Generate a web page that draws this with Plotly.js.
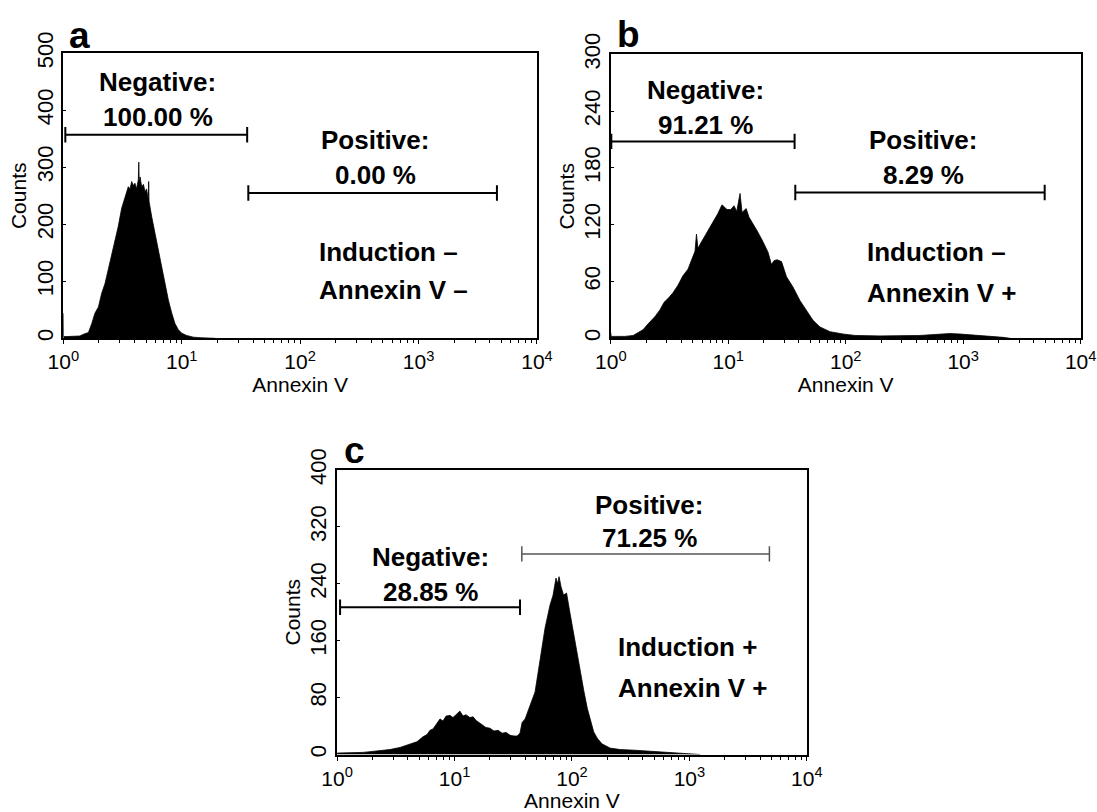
<!DOCTYPE html>
<html>
<head>
<meta charset="utf-8">
<script src="https://cdn.plot.ly/plotly-3.0.1.min.js"></script>
<style>html,body{margin:0;padding:0;background:#fff;}#chart{width:1097px;height:812px;}</style>
</head>
<body>
<div id="chart"></div>
<script>
// ---------- data ----------
// Panel a: Induction – / Annexin V –  (Annexin V intensity, counts)
const aX = [1.00, 1.005, 1.07, 1.20, 1.38, 1.48, 1.63, 1.74, 1.85, 1.98,
            2.11, 2.25, 2.40, 2.56, 2.73, 2.91, 3.11, 3.32, 3.54, 3.66,
            3.78, 3.90, 4.03, 4.15, 4.30, 4.34, 4.38, 4.45, 4.59, 4.75,
            4.90, 5.05, 5.22, 5.26, 5.30, 5.58, 5.95, 6.34, 6.78, 7.23,
            7.71, 8.24, 8.77, 9.36, 10.0, 11.0, 12.5, 14.3, 19.0];
const aY = [44, 3, 3, 4, 4, 7, 10, 26, 44, 55,
            79, 96, 120, 143, 167, 196, 228, 248, 266, 262,
            275, 268, 272, 262, 278, 309, 272, 283, 266, 270,
            257, 262, 243, 275, 240, 213, 184, 161, 126, 96,
            67, 44, 26, 15, 9, 5, 2, 1, 0];

// Panel b: Induction – / Annexin V +
const bX = [1.00, 1.005, 1.09, 1.32, 1.55, 1.70, 1.88, 2.07, 2.38, 2.62,
            2.84, 3.07, 3.38, 3.73, 4.11, 4.54, 4.91, 5.21, 5.36, 5.52,
            5.86, 6.34, 6.78, 7.41, 8.18, 8.84, 9.37, 9.75, 10.5, 11.2,
            11.8, 12.6, 13.1, 14.2, 15.0, 15.9, 17.5, 19.2, 20.5, 21.8,
            23.3, 24.5, 26.0, 28.4, 31.3, 35.6, 40.7, 46.3, 52.6, 60.3,
            73.4, 94.7, 120, 196, 289, 428, 574, 771, 938, 1259,
            1687, 2178, 2500];
const bY = [6, 2, 2, 2, 3, 6, 9, 15, 23, 30,
            38, 42, 48, 56, 66, 73, 84, 92, 110, 95,
            101, 108, 114, 123, 132, 141, 138, 136, 136, 140,
            134, 153, 133, 137, 128, 123, 114, 105, 98, 91,
            78, 82, 83, 81, 65, 54, 40, 30, 19, 12,
            7, 4.5, 3, 2.5, 2.5, 3, 4, 5, 4.5, 3.5,
            2.5, 1, 0];

// Panel c: Induction + / Annexin V +
const cX = [1.00, 1.17, 1.42, 1.66, 1.91, 2.32, 2.82, 3.44, 4.18, 4.79,
            5.39, 5.83, 6.18, 6.56, 6.95, 7.52, 7.98, 8.46, 9.15, 9.70,
            10.3, 11.1, 11.8, 12.5, 13.5, 14.4, 15.2, 16.5, 17.5, 18.5,
            20.0, 21.7, 23.5, 25.4, 27.5, 29.7, 32.1, 34.1, 36.1, 37.6,
            39.9, 44.0, 48.5, 53.5, 59.0, 65.0, 69.0, 73.1, 75.4, 77.6,
            80.7, 84.8, 89.9, 96.4, 103, 110, 117, 126, 135, 143,
            153, 164, 180, 211, 257, 345, 462, 684, 975, 1233];
const cY = [2, 2, 2, 3, 4, 5, 7, 10, 15, 18,
            25, 28, 34, 36, 42, 50, 47, 54, 55, 52,
            56, 61, 54, 56, 52, 53, 48, 44, 42, 38,
            37, 33, 34, 30, 31, 27, 26, 26, 30, 45,
            50, 68, 88, 133, 178, 210, 224, 248, 240, 250,
            236, 224, 227, 198, 170, 142, 115, 90, 65, 50,
            32, 23, 15, 9, 7, 6, 4.5, 3, 1.5, 0];

// Gates: [start, end] on Annexin V, and the count level where each bar is drawn
const gateNegA = [1.04, 35.7], gateNegALevel = 357;
const gatePosA = [36.5, 4590], gatePosALevel = 255;
const gateNegB = [1.01, 36.7], gateNegBLevel = 208;
const gatePosB = [37.2, 4940], gatePosBLevel = 154;
const gateNegC = [1.06, 36.1], gateNegCLevel = 207;
const gatePosC = [37.4, 4800], gatePosCLevel = 282;

const negLabels = ['100.00 %', '91.21 %', '28.85 %'];
const posLabels = ['0.00 %', '8.29 %', '71.25 %'];
const condLabels = [['Induction –', 'Annexin V –'], ['Induction –', 'Annexin V +'], ['Induction +', 'Annexin V +']];
const panelLetters = ['a', 'b', 'c'];

const xTickVals = [1, 10, 100, 1000, 10000];
const xTickText = ['10<sup>0</sup>', '10<sup>1</sup>', '10<sup>2</sup>', '10<sup>3</sup>', '10<sup>4</sup>'];
const yMax = [500, 300, 400];
const yStep = [100, 60, 80];

// ---------- build ----------
const FONT = 'Arial, "Liberation Sans", Helvetica, sans-serif';
const NARROW = '"Liberation Sans Narrow", "Arial Narrow", Arial, "Liberation Sans", sans-serif';
const minorVals = [];
for (let d = 1; d < 10000; d *= 10) for (let m = 2; m <= 9; m++) minorVals.push(m * d);

function histTrace(x, y, ax) {
  return {x, y, type: 'scatter', mode: 'lines', fill: 'tozeroy', fillcolor: '#000',
          line: {color: '#000', width: 0.8}, xaxis: 'x' + ax, yaxis: 'y' + ax, hoverinfo: 'skip', showlegend: false};
}
function gateTrace(g, level, ax, color, w) {
  return {x: g, y: [level, level], type: 'scatter', mode: 'lines+markers',
          line: {color, width: w}, marker: {symbol: 'line-ns-open', size: 11, color, line: {color, width: w}},
          xaxis: 'x' + ax, yaxis: 'y' + ax, hoverinfo: 'skip', showlegend: false};
}
function xAxis(domain, anchor) {
  return {type: 'log', range: [0, 4], domain, anchor, tickmode: 'array', tickvals: xTickVals, ticktext: xTickText,
          ticks: 'outside', ticklen: 4, tickwidth: 1, tickcolor: '#000', ticklabeloverflow: 'allow',
          minor: {tickmode: 'array', tickvals: minorVals, ticks: 'outside', ticklen: 3, tickwidth: 1, tickcolor: '#000'},
          showline: true, linewidth: 2, linecolor: '#000', mirror: true, showgrid: false, zeroline: false,
          tickfont: {family: NARROW, size: 21, color: '#000'},
          title: {text: 'Annexin V', font: {family: FONT, size: 21, color: '#000'}, standoff: 0}, fixedrange: true};
}
function yAxis(domain, anchor, max, step) {
  return {range: [0, max], domain, anchor, dtick: step, tick0: 0, tickangle: -90,
          ticks: 'inside', ticklen: 3, tickwidth: 1, tickcolor: '#000', ticklabeloverflow: 'allow',
          showline: true, linewidth: 2, linecolor: '#000', mirror: true, showgrid: false, zeroline: false,
          tickfont: {family: NARROW, size: 22, color: '#000'},
          title: {text: 'Counts', font: {family: FONT, size: 21, color: '#000'}, standoff: 0}, fixedrange: true};
}

const data = [
  histTrace(aX, aY, ''), gateTrace(gateNegA, gateNegALevel, '', '#000', 2), gateTrace(gatePosA, gatePosALevel, '', '#000', 2),
  histTrace(bX, bY, '2'), gateTrace(gateNegB, gateNegBLevel, '2', '#000', 2), gateTrace(gatePosB, gatePosBLevel, '2', '#000', 2),
  histTrace(cX, cY, '3'), gateTrace(gateNegC, gateNegCLevel, '3', '#000', 2), gateTrace(gatePosC, gatePosCLevel, '3', '#555', 1.5)
];

// annotation positions (fractions of each plot area)
const pos = [
  {neg: [0.199, 0.900, 0.778], pos: [0.659, 0.696, 0.573], cond: [0.535, 0.304, 0.169], letter: [0.035, 0.985]},
  {neg: [0.201, 0.874, 0.751], pos: [0.665, 0.698, 0.575], cond: [0.542, 0.305, 0.158], letter: [0.037, 0.99]},
  {neg: [0.199, 0.695, 0.572], pos: [0.665, 0.877, 0.760], cond: [0.593, 0.379, 0.233], letter: [0.036, 0.99]}
];
const annotations = [];
const bold = {family: FONT, size: 26, color: '#000'};
pos.forEach((p, i) => {
  const xr = (i === 0 ? 'x' : 'x' + (i + 1)) + ' domain';
  const yr = (i === 0 ? 'y' : 'y' + (i + 1)) + ' domain';
  const add = (text, x, y, xanchor, font) => annotations.push({text, x, y, xref: xr, yref: yr, xanchor, yanchor: 'middle', showarrow: false, font: font || bold});
  add('<b>Negative:</b>', p.neg[0], p.neg[1], 'center');
  add('<b>' + negLabels[i] + '</b>', p.neg[0], p.neg[2], 'center');
  add('<b>Positive:</b>', p.pos[0], p.pos[1], 'center');
  add('<b>' + posLabels[i] + '</b>', p.pos[0], p.pos[2], 'center');
  add('<b>' + condLabels[i][0] + '</b>', p.cond[0], p.cond[1], 'left');
  add('<b>' + condLabels[i][1] + '</b>', p.cond[0], p.cond[2], 'left');
  annotations.push({text: '<b>' + panelLetters[i] + '</b>', x: p.letter[0], y: p.letter[1], xref: xr, yref: yr,
                    xanchor: 'center', yanchor: 'bottom', showarrow: false, font: {family: FONT, size: 37, color: '#000'}});
});

const layout = {
  width: 1097, height: 812, margin: {l: 0, r: 0, t: 0, b: 0},
  paper_bgcolor: '#fff', plot_bgcolor: '#fff', showlegend: false,
  font: {family: FONT, color: '#000'},
  xaxis: xAxis([0.0577, 0.4895], 'y'),
  yaxis: yAxis([0.5834, 0.9344], 'x', yMax[0], yStep[0]),
  xaxis2: xAxis([0.5568, 0.9851], 'y2'),
  yaxis2: yAxis([0.5834, 0.9331], 'x2', yMax[1], yStep[1]),
  xaxis3: xAxis([0.3073, 0.7355], 'y3'),
  yaxis3: yAxis([0.0708, 0.4212], 'x3', yMax[2], yStep[2]),
  annotations
};
Plotly.newPlot('chart', data, layout, {staticPlot: true});
</script>
</body>
</html>
